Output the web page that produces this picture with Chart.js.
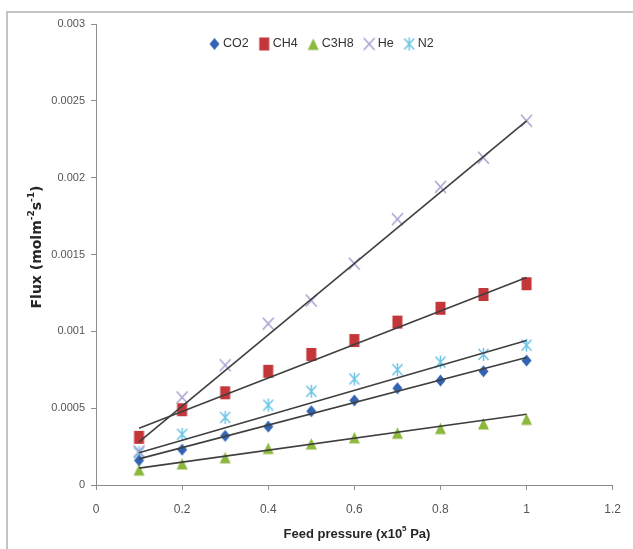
<!DOCTYPE html>
<html lang="en">
<head>
<meta charset="UTF-8">
<title>Flux vs feed pressure</title>
<style>
    html, body { margin: 0; padding: 0; background: #fff; }
    .wrap { position: relative; width: 633px; height: 549px; }
</style>
</head>
<body>
<div class="wrap"><canvas id="fluxChart" width="633" height="549"></canvas></div>

<script src="https://cdn.jsdelivr.net/npm/chart.js@4.4.0/dist/chart.umd.min.js"></script>
<script>
    // feed pressure (x10^5 Pa)
    const pressure = [0.1, 0.2, 0.3, 0.4, 0.5, 0.6, 0.7, 0.8, 0.9, 1.0];

    const co2  = [0.00016, 0.00023, 0.00032, 0.00038, 0.00048, 0.00055, 0.00063, 0.00068, 0.00074, 0.00081];
    const ch4  = [0.00031, 0.00049, 0.00060, 0.00074, 0.00085, 0.00094, 0.00106, 0.00115, 0.00124, 0.00131];
    const c3h8 = [0.00010, 0.00014, 0.00018, 0.00024, 0.00027, 0.00031, 0.00034, 0.00037, 0.00040, 0.00043];
    const he   = [0.00022, 0.00057, 0.00078, 0.00105, 0.00120, 0.00144, 0.00173, 0.00194, 0.00213, 0.00237];
    const n2   = [0.00021, 0.00033, 0.00044, 0.00052, 0.00061, 0.00069, 0.00075, 0.00080, 0.00085, 0.00091];

    // trend line ends (at 0.1 and 1.0)
    const trendX    = [0.1, 1.0];
    const co2Trend  = [0.00017, 0.00083];
    const ch4Trend  = [0.00037, 0.00135];
    const c3h8Trend = [0.00011, 0.00046];
    const heTrend   = [0.00028, 0.00237];
    const n2Trend   = [0.00021, 0.00094];

    const gasNames = ['CO2', 'CH4', 'C3H8', 'He', 'N2'];

    // axis ticks
    const xTicks = [0, 0.2, 0.4, 0.6, 0.8, 1, 1.2];
    const xTickLabels = ['0', '0.2', '0.4', '0.6', '0.8', '1', '1.2'];
    const yTicks = [0, 0.0005, 0.001, 0.0015, 0.002, 0.0025, 0.003];
    const yTickLabels = ['0', '0.0005', '0.001', '0.0015', '0.002', '0.0025', '0.003'];

    const FONT = "'Liberation Sans', Arial, sans-serif";
    const TITLE_FONT = "'DejaVu Sans', Verdana, sans-serif";
    const AXIS_GRAY = '#8c8c8c';

    // excel-like markers as small canvases
    function makeMarker(kind, color) {
        const c = document.createElement('canvas');
        c.width = 13;
        c.height = 15;
        const g = c.getContext('2d');
        g.fillStyle = color;
        g.strokeStyle = color;
        if (kind == 'diamond') {
            g.beginPath();
            g.moveTo(6.5, 1.5); g.lineTo(11.5, 7.5); g.lineTo(6.5, 13.5); g.lineTo(1.5, 7.5);
            g.closePath();
            g.fill();
        } else if (kind == 'square') {
            g.fillRect(1.5, 1, 10, 13);
        } else if (kind == 'triangle') {
            g.beginPath();
            g.moveTo(6.5, 2); g.lineTo(12, 13.5); g.lineTo(1, 13.5);
            g.closePath();
            g.fill();
        } else if (kind == 'x') {
            g.lineWidth = 1.4;
            g.beginPath();
            g.moveTo(1, 1.5); g.lineTo(12, 13.5);
            g.moveTo(12, 1.5); g.lineTo(1, 13.5);
            g.stroke();
        } else if (kind == 'star') {
            g.lineWidth = 1.5;
            g.beginPath();
            g.moveTo(1.5, 2); g.lineTo(11.5, 13);
            g.moveTo(11.5, 2); g.lineTo(1.5, 13);
            g.moveTo(6.5, 1); g.lineTo(6.5, 14);
            g.stroke();
        }
        return c;
    }

    const markers = [
        makeMarker('diamond', '#3363b3'),
        makeMarker('square', '#c3373b'),
        makeMarker('triangle', '#8cb83e'),
        makeMarker('x', '#a59ccf'),
        makeMarker('star', '#6cc4e4'),
    ];

    const series = [co2, ch4, c3h8, he, n2];
    const trends = [co2Trend, ch4Trend, c3h8Trend, heTrend, n2Trend];

    const datasets = [];
    for (let i = 0; i < series.length; i++) {
        datasets.push({
            label: gasNames[i],
            data: pressure.map((p, j) => ({ x: p, y: series[i][j] })),
            pointStyle: markers[i],
            pointRadius: 6,
            showLine: false,
            order: 1,
        });
    }
    for (let i = 0; i < trends.length; i++) {
        datasets.push({
            label: gasNames[i] + ' trend',
            data: trendX.map((p, j) => ({ x: p, y: trends[i][j] })),
            showLine: true,
            pointRadius: 0,
            borderColor: '#3f3f3f',
            borderWidth: 1.6,
            order: 0,
        });
    }

    // draw text with superscript parts, centred at (0,0) of current transform
    function drawRich(ctx, parts, size, family) {
        const sup = Math.round(size * 0.65);
        let total = 0;
        for (const p of parts) {
            ctx.font = 'bold ' + (p[1] ? sup : size) + 'px ' + family;
            total += ctx.measureText(p[0]).width;
        }
        let x = -total / 2;
        for (const p of parts) {
            ctx.font = 'bold ' + (p[1] ? sup : size) + 'px ' + family;
            ctx.fillText(p[0], x, p[1] ? -size * 0.38 : 0);
            x += ctx.measureText(p[0]).width;
        }
    }

    const decorPlugin = {
        id: 'decor',
        beforeDraw(chart) {
            const ctx = chart.ctx;
            ctx.save();
            ctx.strokeStyle = '#c4c4c4';
            ctx.lineWidth = 2;
            ctx.beginPath();
            ctx.moveTo(633, 12); ctx.lineTo(7, 12); ctx.lineTo(7, 549);
            ctx.stroke();
            ctx.restore();
        },
        afterDraw(chart) {
            const ctx = chart.ctx;
            ctx.save();
            ctx.fillStyle = '#262626';
            ctx.textBaseline = 'middle';
            ctx.textAlign = 'left';

            // y title
            ctx.save();
            ctx.translate(37, 247);
            ctx.rotate(-Math.PI / 2);
            drawRich(ctx, [['Flux (molm', false], ['-2', true], ['s', false], ['-1', true], [')', false]], 14, TITLE_FONT);
            ctx.restore();

            // x title
            ctx.save();
            ctx.translate(357, 534);
            drawRich(ctx, [['Feed pressure (x10', false], ['5', true], [' Pa)', false]], 13, FONT);
            ctx.restore();

            // legend inside plot
            ctx.font = '12.5px ' + FONT;
            ctx.fillStyle = '#333';
            let x = 208;
            const y = 44;
            for (let i = 0; i < gasNames.length; i++) {
                const m = markers[i];
                ctx.drawImage(m, x, y - m.height / 2);
                x += m.width + 2;
                ctx.fillText(gasNames[i], x, y);
                x += ctx.measureText(gasNames[i]).width + 9;
            }
            ctx.restore();
        },
    };

    const fluxChart = document.getElementById('fluxChart');

    new Chart(fluxChart, {
        type: 'scatter',
        data: { datasets: datasets },
        options: {
            responsive: false,
            animation: false,
            devicePixelRatio: 1,
            layout: { padding: { top: 24, right: 13, left: 0, bottom: 0 } },
            plugins: {
                legend: { display: false },
                tooltip: { enabled: false },
            },
            scales: {
                x: {
                    type: 'linear',
                    min: 0,
                    max: 1.2,
                    grid: { drawOnChartArea: false, tickLength: 5, color: AXIS_GRAY },
                    border: { color: AXIS_GRAY, width: 1 },
                    ticks: {
                        autoSkip: false,
                        maxRotation: 0,
                        padding: 12,
                        color: '#555',
                        font: { family: FONT, size: 12 },
                        callback: (v, i) => xTickLabels[i],
                    },
                    afterBuildTicks: (s) => { s.ticks = xTicks.map(v => ({ value: v })); },
                    afterFit: (s) => { s.height = 64; },
                },
                y: {
                    type: 'linear',
                    min: 0,
                    max: 0.003,
                    grid: { drawOnChartArea: false, tickLength: 5, color: AXIS_GRAY },
                    border: { color: AXIS_GRAY, width: 1 },
                    ticks: {
                        autoSkip: false,
                        padding: 6,
                        color: '#555',
                        font: { family: FONT, size: 11 },
                        callback: (v, i) => yTickLabels[i],
                    },
                    afterBuildTicks: (s) => { s.ticks = yTicks.map(v => ({ value: v })); },
                    afterFit: (s) => { s.width = 96; },
                },
            },
        },
        plugins: [decorPlugin],
    });
</script>
</body>
</html>
